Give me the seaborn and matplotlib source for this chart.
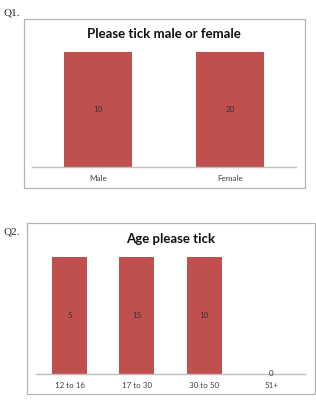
import matplotlib
matplotlib.use("Agg")
import matplotlib.pyplot as plt
import seaborn as sns
import pandas as pd
from matplotlib.patches import Rectangle

sns.set_theme(style="white")
plt.rcParams['font.family'] = ['Lato', 'DejaVu Sans']

# Data
q1_categories = ["Male", "Female"]
q1_values = [10, 20]
q2_categories = ["12 to 16", "17 to 30", "30 to 50", "51+"]
q2_values = [5, 15, 10, 0]
q1_title = "Please tick male or female"
q2_title = "Age please tick"

BAR = "#C0504D"
AXIS = "#BFBFBF"
BOX = "#B3B3B3"
YMAX = 5  # value axis maximum (taller bars are clipped, as in the original)

fig = plt.figure(figsize=(3.16, 4.0), dpi=100)
fig.patch.set_facecolor("white")

# Frames around each chart
fig.patches.append(Rectangle((0.076, 0.53), 0.889, 0.4225, transform=fig.transFigure,
                             fill=False, edgecolor=BOX, linewidth=0.9, zorder=0))
fig.patches.append(Rectangle((0.0854, 0.015), 0.911, 0.4275, transform=fig.transFigure,
                             fill=False, edgecolor=BOX, linewidth=0.9, zorder=0))

fig.text(0.012, 0.967, "Q1.", family="Liberation Serif", fontsize=8, color="#222222", va="center")
fig.text(0.012, 0.42, "Q2.", family="Liberation Serif", fontsize=8, color="#222222", va="center")

def draw(ax, cats, vals, title, title_y):
    df = pd.DataFrame({"cat": cats, "val": vals})
    sns.barplot(data=df, x="cat", y="val", color=BAR, saturation=1, width=0.52,
                linewidth=0, ax=ax)
    ax.set_ylim(0, YMAX)
    ax.set_xlim(-0.5, len(cats) - 0.5)
    for s in ["top", "right", "left"]:
        ax.spines[s].set_visible(False)
    ax.spines["bottom"].set_color(AXIS)
    ax.spines["bottom"].set_linewidth(1.0)
    ax.set_yticks([])
    ax.set_xlabel("")
    ax.set_ylabel("")
    ax.tick_params(axis="x", length=0, labelsize=5.8, labelcolor="#404040", pad=6)
    ax.set_facecolor("none")
    for i, v in enumerate(vals):
        y = min(v, YMAX) / 2 if v > 0 else 0
        ax.text(i, y, str(v), ha="center", va="center", fontsize=5.8, color="#333333", clip_on=False)
    fig.text(ax.get_position().x0 + ax.get_position().width / 2, title_y, title,
             ha="center", va="center", fontsize=9.5, fontweight="bold", color="#111111")

ax1 = fig.add_axes([0.101, 0.5825, 0.835, 0.2875])
draw(ax1, q1_categories, q1_values, q1_title, 1 - 34 / 400)

ax2 = fig.add_axes([0.114, 0.065, 0.851, 0.2925])
draw(ax2, q2_categories, q2_values, q2_title, 1 - 239 / 400)

fig.savefig("out.png", dpi=100, facecolor="white")
